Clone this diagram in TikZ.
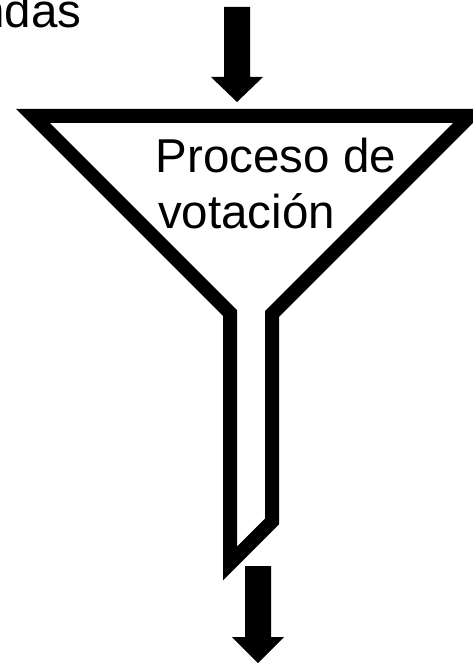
\documentclass[tikz,border=0pt]{standalone}
\usepackage{fontspec}
\setmainfont{Liberation Sans}
\begin{document}
\begin{tikzpicture}[x=1pt,y=-1pt,
  funnelline/.style={draw=black,line width=14pt,miter limit=10,line join=miter},
  blockarrow/.style={fill=black},
  bigtext/.style={font=\fontsize{47.5}{57}\selectfont,inner sep=0pt,text=black}]
\useasboundingbox[fill=white] (0,0) rectangle (473,663);
% input text (cut by the page edge, as in the reference)
\node[bigtext,anchor=base east] (inlabel) at (81.5,28) {Demandas};
% top arrow
\fill[blockarrow] (224,7) -- (250,7) -- (250,77) -- (263,77) -- (237,102) -- (211,77) -- (224,77) -- cycle;
% funnel
\coordinate (tl) at (33,116);
\coordinate (tr) at (470,116);
\coordinate (nr) at (272,314);
\coordinate (br) at (272,521.5);
\coordinate (bl) at (230,563.5);
\coordinate (nl) at (230,313);
\draw[funnelline] (tl) -- (tr) -- (nr) -- (br) -- (bl) -- (nl) -- cycle;
% text
\node[bigtext,anchor=base west] (t1) at (155.5,172) {Proceso de};
\node[bigtext,anchor=base west] (t2) at (158,228) {votación};
% bottom arrow
\fill[blockarrow] (245,566) -- (271,566) -- (271,637) -- (284,637) -- (258,663) -- (232,637) -- (245,637) -- cycle;
\end{tikzpicture}
\end{document}
